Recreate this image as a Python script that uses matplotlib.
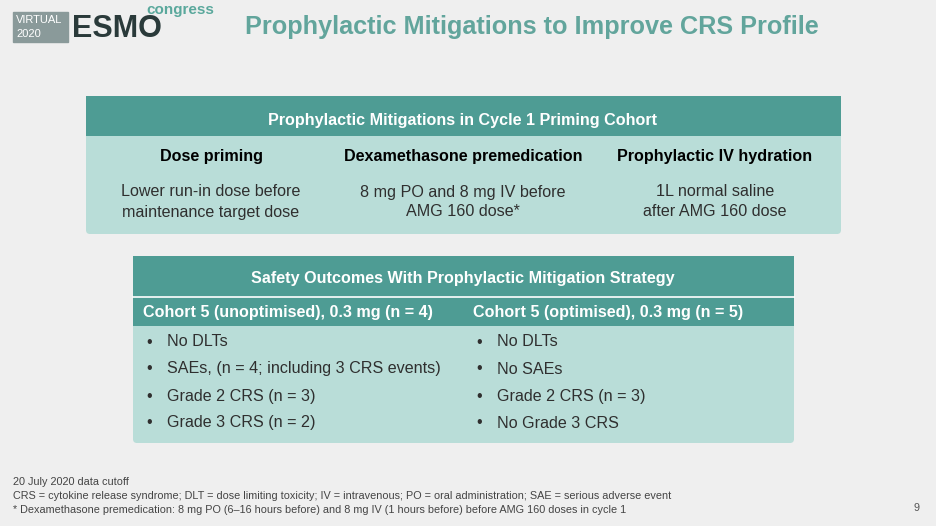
import matplotlib.pyplot as plt
from matplotlib.patches import Rectangle, FancyBboxPatch

plt.rcParams['font.family'] = 'Liberation Sans'

title = "Prophylactic Mitigations to Improve CRS Profile"
top_header = "Prophylactic Mitigations in Cycle 1 Priming Cohort"
top_cols = ["Dose priming", "Dexamethasone premedication", "Prophylactic IV hydration"]
top_text = [["Lower run-in dose before", "maintenance target dose"],
            ["8 mg PO and 8 mg IV before", "AMG 160 dose*"],
            ["1L normal saline", "after AMG 160 dose"]]
bot_header = "Safety Outcomes With Prophylactic Mitigation Strategy"
bot_cols = ["Cohort 5 (unoptimised), 0.3 mg (n = 4)", "Cohort 5 (optimised), 0.3 mg (n = 5)"]
left_items = ["No DLTs", "SAEs, (n = 4; including 3 CRS events)", "Grade 2 CRS (n = 3)", "Grade 3 CRS (n = 2)"]
right_items = ["No DLTs", "No SAEs", "Grade 2 CRS (n = 3)", "No Grade 3 CRS"]
footnotes = ["20 July 2020 data cutoff",
             "CRS = cytokine release syndrome; DLT = dose limiting toxicity; IV = intravenous; PO = oral administration; SAE = serious adverse event",
             "* Dexamethasone premedication: 8 mg PO (6\u201316 hours before) and 8 mg IV (1 hours before) before AMG 160 doses in cycle 1"]

teal = '#4e9c94'
light = '#b9ddd8'
dark = '#2f2f2f'
fs = 11.6

fig = plt.figure(figsize=(9.36, 5.26), dpi=100)
fig.patch.set_facecolor('#efefef')
ax = fig.add_axes([0, 0, 1, 1])
ax.set_xlim(0, 936)
ax.set_ylim(526, 0)
ax.axis('off')

# logo
ax.add_patch(Rectangle((13, 12), 55, 30, color='#8a9a9a'))
ax.text(16, 20, "VIRTUAL", color='white', fontsize=8, va='center')
ax.text(16, 34, "2020", color='white', fontsize=8, va='center')
ax.text(72, 29, "ESMO", color='#2a3a3a', fontsize=22, fontweight='bold', va='center')
ax.text(146, 10, "congress", color='#5aa89c', fontsize=11, fontweight='bold', va='center')
ax.text(532, 27, title, color='#62a59c', fontsize=18.2, fontweight='bold', ha='center', va='center')

# top table
ax.add_patch(FancyBboxPatch((86, 96), 755, 138, boxstyle='round,pad=0,rounding_size=4', fc=light, ec='none'))
ax.add_patch(Rectangle((86, 96), 755, 40, fc=teal, ec='none'))
ax.text(463, 120, top_header, color='white', fontsize=fs, fontweight='bold', ha='center', va='center')
centers = [211, 463, 715]
for cx, head, lines in zip(centers, top_cols, top_text):
    ax.text(cx, 156, head, color='black', fontsize=fs, fontweight='bold', ha='center', va='center')
    for j, line in enumerate(lines):
        ax.text(cx, 192 + 20 * j, line, color=dark, fontsize=fs, ha='center', va='center')

# bottom table
ax.add_patch(FancyBboxPatch((133, 256), 661, 187, boxstyle='round,pad=0,rounding_size=4', fc=light, ec='none'))
ax.add_patch(Rectangle((133, 256), 661, 70, fc=teal, ec='none'))
ax.plot([133, 794], [297, 297], color='white', lw=1.2)
ax.text(463, 279, bot_header, color='white', fontsize=fs, fontweight='bold', ha='center', va='center')
for x0, head, items in [(143, bot_cols[0], left_items), (473, bot_cols[1], right_items)]:
    ax.text(x0, 312, head, color='white', fontsize=fs, fontweight='bold', va='center')
    for i, item in enumerate(items):
        y = 342 + 27 * i
        ax.text(x0 + 3, y, "\u2022", color=dark, fontsize=fs, va='center')
        ax.text(x0 + 24, y, item, color=dark, fontsize=fs, va='center')

for i, note in enumerate(footnotes):
    ax.text(13, 482 + 14 * i, note, color='#444444', fontsize=7.8, va='center')
ax.text(919, 508, "9", color='#555555', fontsize=7.8, ha='right', va='center')

fig.savefig('out.png', dpi=100, facecolor=fig.get_facecolor())
